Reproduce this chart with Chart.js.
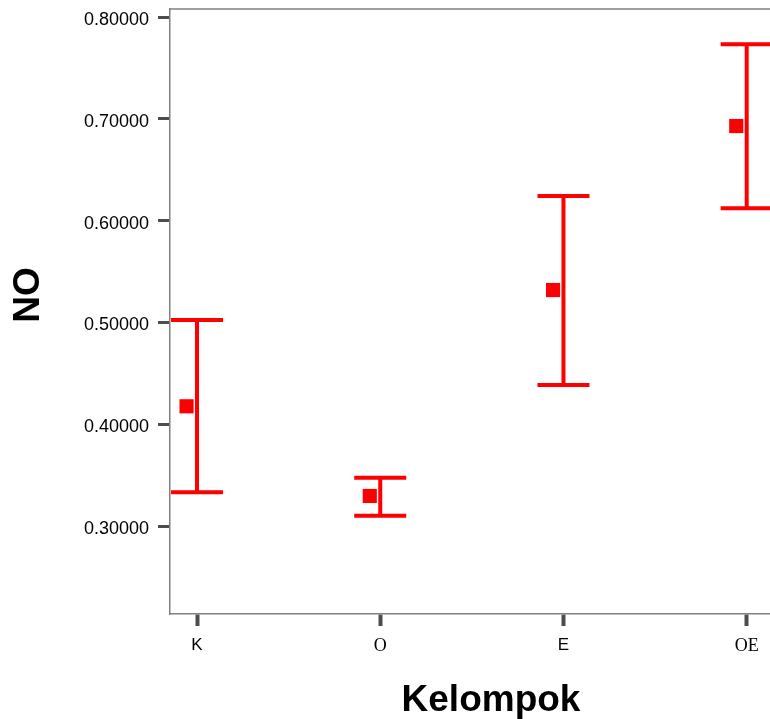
<!DOCTYPE html>
<html>
<head>
<meta charset="utf-8">
<script src="https://cdn.jsdelivr.net/npm/chart.js@4"></script>
<style>
  body { margin: 0; background: #fff; overflow: hidden; }
  #wrap { width: 770px; height: 719px; }
</style>
</head>
<body>
<div id="wrap"><canvas id="myChart" width="770" height="719"></canvas></div>
<script>
// --- Data ---
const categories = ['K', 'O', 'E', 'OE'];
const means = [0.4176, 0.3295, 0.5318, 0.6929];
const upper = [0.5024, 0.3474, 0.6242, 0.7732];
const lower = [0.3331, 0.3101, 0.4385, 0.6121];
const yTicks = [0.3, 0.4, 0.5, 0.6, 0.7, 0.8];
const xTicks = [1, 2, 3, 4];

// small shift of the mean marker to the left of its bar
const markShift = -0.057;

const red = '#ff0000';
const frameColor = '#808080';
const tickColor = '#4d4d4d';

// Error bars drawn through the scales
const errorBars = {
    id: 'errorBars',
    beforeDatasetsDraw(chart) {
        const { ctx, scales: { x, y } } = chart;
        ctx.save();
        ctx.strokeStyle = red;
        ctx.lineWidth = 4;
        categories.forEach((c, i) => {
            const px = x.getPixelForValue(xTicks[i]);
            const hi = y.getPixelForValue(upper[i]);
            const lo = y.getPixelForValue(lower[i]);
            ctx.beginPath();
            ctx.moveTo(px, hi);
            ctx.lineTo(px, lo);
            ctx.moveTo(px - 26, hi);
            ctx.lineTo(px + 26, hi);
            ctx.moveTo(px - 26, lo);
            ctx.lineTo(px + 26, lo);
            ctx.stroke();
        });
        ctx.restore();
    }
};

// Top frame line and axis titles
const frameAndTitles = {
    id: 'frameAndTitles',
    afterDraw(chart) {
        const { ctx, chartArea } = chart;
        ctx.save();
        ctx.strokeStyle = frameColor;
        ctx.lineWidth = 1.5;
        ctx.beginPath();
        ctx.moveTo(chartArea.left, chartArea.top);
        ctx.lineTo(chartArea.right, chartArea.top);
        ctx.stroke();

        ctx.fillStyle = '#000';
        ctx.font = 'bold 37px "Liberation Sans", Arial, sans-serif';
        ctx.textAlign = 'center';
        ctx.textBaseline = 'alphabetic';
        ctx.fillText('Kelompok', 491, 710.5);

        ctx.translate(39, 295);
        ctx.rotate(-Math.PI / 2);
        ctx.fillText('NO', 0, 0);
        ctx.restore();
    }
};

// fixed axis sizes, no extra padding from tick labels
function fixX(s) {
    s.height = 105;
    s.paddingLeft = 0;
    s.paddingRight = 0;
}
function fixY(s) {
    s.width = 170;
    s.paddingTop = 0;
    s.paddingBottom = 0;
}

const ctx = document.getElementById('myChart').getContext('2d');

let myChart = new Chart(ctx, {
    type: 'scatter',
    data: {
        datasets: [{
            label: 'Mean NO',
            data: means.map((m, i) => ({ x: xTicks[i] + markShift, y: m })),
            pointStyle: 'rect',
            pointRadius: 10,
            pointBorderWidth: 0,
            pointBackgroundColor: red,
            pointBorderColor: red
        }]
    },
    options: {
        responsive: false,
        animation: false,
        layout: { autoPadding: false, padding: { top: 9, left: 0, right: 0, bottom: 0 } },
        scales: {
            x: {
                type: 'linear',
                min: 0.8526,
                max: 4.1272,
                afterFit: fixX,
                afterBuildTicks: (s) => { s.ticks = xTicks.map(v => ({ value: v })); },
                border: { display: true, color: frameColor, width: 1.5 },
                grid: {
                    drawOnChartArea: false,
                    drawTicks: true,
                    tickLength: 12,
                    tickWidth: 4,
                    tickColor: tickColor
                },
                ticks: {
                    padding: 9,
                    color: '#000',
                    callback: (v) => categories[v - 1],
                    font: (c) => {
                        const lbl = c.tick ? categories[c.tick.value - 1] : '';
                        if (lbl === 'O' || lbl === 'OE') {
                            return { family: '"Liberation Serif", "Times New Roman", serif', size: 18 };
                        }
                        return { family: '"Liberation Sans", Arial, sans-serif', size: 17 };
                    }
                }
            },
            y: {
                min: 0.21356,
                max: 0.80786,
                afterFit: fixY,
                afterBuildTicks: (s) => { s.ticks = yTicks.map(v => ({ value: v })); },
                border: { display: true, color: frameColor, width: 1.5 },
                grid: {
                    drawOnChartArea: false,
                    drawTicks: true,
                    tickLength: 12,
                    tickWidth: 3,
                    tickColor: tickColor
                },
                ticks: {
                    padding: 9,
                    labelOffset: 3,
                    color: '#000',
                    font: { family: '"Liberation Sans", Arial, sans-serif', size: 18 },
                    callback: (v) => v.toFixed(5)
                }
            }
        },
        plugins: {
            legend: { display: false },
            tooltip: { enabled: false }
        }
    },
    plugins: [errorBars, frameAndTitles]
});
</script>
</body>
</html>
